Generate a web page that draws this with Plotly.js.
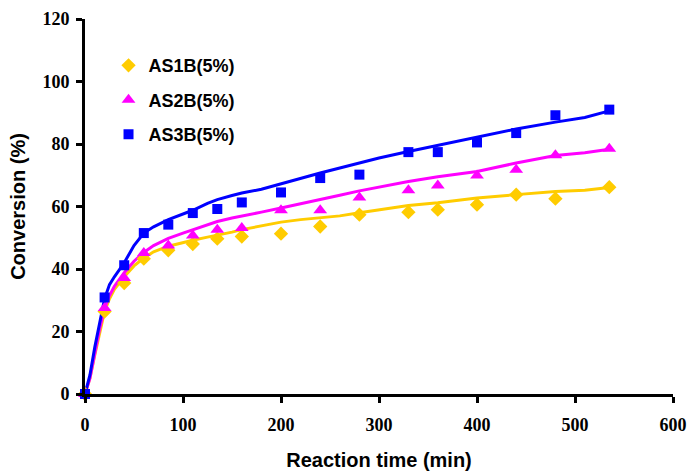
<!DOCTYPE html>
<html>
<head>
<meta charset="utf-8">
<script src="https://cdn.plot.ly/plotly-3.0.1.min.js"></script>
<style>html,body{margin:0;padding:0;background:#fff;}#chart{width:688px;height:473px;}</style>
</head>
<body>
<div id="chart"></div>
<script>
// Measured data points
const timeMin = [0, 20, 40, 60, 85, 110, 135, 160, 200, 240, 280, 330, 360, 400, 440, 480, 535];
const as1b = [0, 26.4, 35.5, 43.3, 46.0, 48.0, 49.7, 50.4, 51.3, 53.6, 57.4, 58.2, 59.0, 60.6, 63.8, 62.5, 66.2];
const as2b = [0, 27.5, 37.1, 45.1, 47.5, 50.7, 52.6, 53.1, 58.8, 58.8, 62.9, 65.2, 66.7, 69.9, 71.8, 76.4, 78.5];
const as3b = [0, 30.9, 41.2, 51.5, 54.2, 57.9, 59.2, 61.3, 64.5, 69.1, 70.2, 77.4, 77.4, 80.5, 83.5, 89.2, 91.0];

// Fitted curves
const fitTime = [0, 5, 10, 15, 20, 25, 30, 40, 50, 60, 70, 85, 100, 110, 125, 135, 150, 160, 180, 200, 220, 240, 260, 280, 300, 330, 360, 400, 440, 480, 510, 535];
const fit1 = [0, 5, 12.5, 20, 26.5, 30.5, 33.5, 37.5, 41, 43.5, 45.5, 47.3, 48.5, 49.2, 50.2, 50.8, 51.8, 52.6, 53.8, 55, 55.8, 56.3, 57, 58, 59, 60.3, 61.2, 62.7, 63.8, 64.8, 65.2, 66.1];
const fit2 = [0, 5, 13, 21, 27.5, 31.5, 34.5, 38.8, 42.5, 45.3, 47.5, 49.8, 51.5, 52.5, 54.2, 55.2, 56.3, 57, 58.2, 59.5, 60.8, 62.2, 63.6, 65, 66.2, 68, 69.5, 71.2, 73.9, 76.3, 77.2, 78.3];
const fit3 = [0, 6, 15, 23, 30.5, 35, 37.5, 42, 47.5, 51.5, 53.5, 55.8, 57.5, 58.8, 61, 62.2, 63.5, 64.3, 65.5, 67.3, 69, 70.7, 72.3, 74, 75.5, 77.6, 79.6, 82.3, 84.8, 87, 88.5, 90.6];

const seriesNames = ['AS1B(5%)', 'AS2B(5%)', 'AS3B(5%)'];
const colors = ['#FFCC00', '#FF00FF', '#0000FF'];
const symbols = ['diamond', 'triangle-up', 'square'];
const sizes = [11, 12, 10];

const pts = [as1b, as2b, as3b];
const fits = [fit1, fit2, fit3];

const traces = [];
for (let i = 0; i < 3; i++) {
  traces.push({
    x: fitTime, y: fits[i], type: 'scatter', mode: 'lines',
    line: {color: colors[i], width: 3}, showlegend: false, hoverinfo: 'skip'
  });
}
for (let i = 0; i < 3; i++) {
  traces.push({
    x: timeMin, y: pts[i], type: 'scatter', mode: 'markers', name: seriesNames[i],
    legendgroup: 'g' + i,
    marker: {color: colors[i], symbol: symbols[i], size: sizes[i]},
    cliponaxis: false
  });
}

const tickFont = {family: '"Liberation Serif", "Times New Roman", serif', size: 18, color: '#000', weight: 'bold'};
const titleFont = {family: '"Liberation Sans", Arial, sans-serif', size: 20, color: '#000', weight: 'bold'};

const layout = {
  width: 688, height: 473,
  paper_bgcolor: '#fff', plot_bgcolor: '#fff',
  margin: {l: 85, r: 15, t: 19, b: 79},
  showlegend: true,
  legend: {
    x: 0.04, y: 0.925, xanchor: 'left', yanchor: 'top',
    font: {family: '"Liberation Sans", Arial, sans-serif', size: 18, color: '#000', weight: 'bold'},
    traceorder: 'grouped', tracegroupgap: 8, bgcolor: 'rgba(0,0,0,0)'
  },
  xaxis: {
    range: [0, 600], tickvals: [0, 100, 200, 300, 400, 500, 600],
    showline: true, linecolor: '#000', linewidth: 3, mirror: false,
    ticks: 'outside', ticklen: 6, tickwidth: 3, tickcolor: '#000',
    showgrid: false, zeroline: false, tickfont: tickFont, ticklabelstandoff: 6,
    title: {text: 'Reaction time (min)', font: titleFont, standoff: 20},
    automargin: false
  },
  yaxis: {
    range: [0, 120], tickvals: [0, 20, 40, 60, 80, 100, 120],
    showline: true, linecolor: '#000', linewidth: 3, mirror: false,
    ticks: 'outside', ticklen: 6, tickwidth: 3, tickcolor: '#000',
    showgrid: false, zeroline: false, tickfont: tickFont, ticklabelstandoff: 3,
    title: {text: 'Conversion (%)', font: titleFont, standoff: 12},
    automargin: false
  }
};

Plotly.newPlot('chart', traces, layout, {displayModeBar: false, staticPlot: true});
</script>
</body>
</html>
